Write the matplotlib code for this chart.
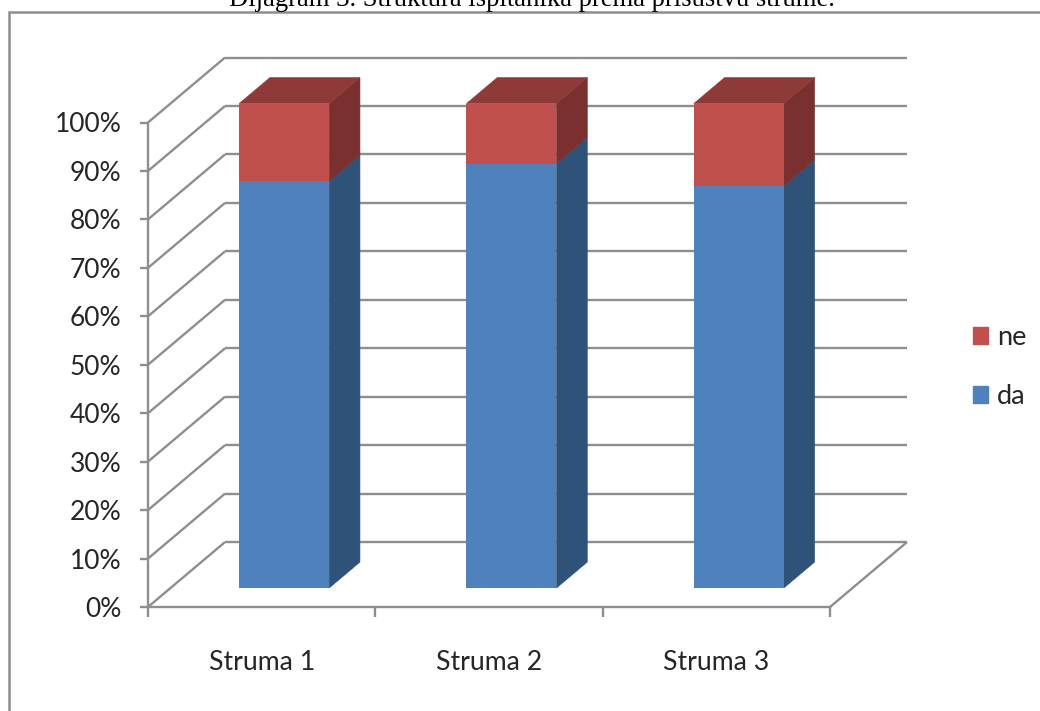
import matplotlib
matplotlib.use('Agg')
import matplotlib.pyplot as plt
from matplotlib.lines import Line2D
from matplotlib.patches import Patch

categories = ['Struma 1', 'Struma 2', 'Struma 3']
da = [84.0, 87.6, 83.0]
ne = [16.0, 12.4, 17.0]
yticks = [0, 10, 20, 30, 40, 50, 60, 70, 80, 90, 100]
ytick_labels = ['0%', '10%', '20%', '30%', '40%', '50%', '60%', '70%', '80%', '90%', '100%']

title = 'Dijagram 3. Struktura ispitanika prema prisustvu strume.'

BLUE, BLUE_SIDE = '#4F81BD', '#2F5279'
RED, RED_SIDE, RED_TOP = '#C0504D', '#7A302E', '#8E3A38'
GRID = '#8E8E8E'
TEXT = '#262626'

# Oblique depth: how far the back wall is shifted, in data units.
DEPTH_X = 77 / 227.33
DEPTH_Y = 65 / 4.85
BAR_WIDTH = 0.396
BAR_FRONT = 0.292
BAR_BACK = 0.692

plt.rcParams['font.family'] = ['Lato', 'DejaVu Sans']

fig = plt.figure(figsize=(10.4, 7.11), dpi=100)
ax = fig.add_axes([148 / 1040, 104 / 711, 682 / 1040, 484.5 / 711])
ax.set_xlim(0, 3)
ax.set_ylim(0, 100)

for name in ['top', 'right']:
    ax.spines[name].set_visible(False)
for name in ['left', 'bottom']:
    ax.spines[name].set_color(GRID)
    ax.spines[name].set_linewidth(1.7)


def depth_line(x0, y0, x1, y1):
    ax.add_line(Line2D([x0, x1], [y0, y1], color=GRID, lw=1.7, clip_on=False,
                       solid_capstyle='butt', zorder=1))


# Back wall gridlines, side wall diagonals and the floor edge.
for y in yticks:
    depth_line(DEPTH_X, y + DEPTH_Y, 3 + DEPTH_X, y + DEPTH_Y)
    depth_line(0, y, DEPTH_X, y + DEPTH_Y)
depth_line(3, 0, 3 + DEPTH_X, DEPTH_Y)


def box(x, bottom, height, front, side, top=None):
    left = x - BAR_WIDTH / 2 + BAR_FRONT * DEPTH_X
    right = left + BAR_WIDTH
    base = bottom + BAR_FRONT * DEPTH_Y
    dx = (BAR_BACK - BAR_FRONT) * DEPTH_X
    dy = (BAR_BACK - BAR_FRONT) * DEPTH_Y
    # thin edge in the same colour closes the seam against the front face
    ax.fill([right, right + dx, right + dx, right],
            [base, base + dy, base + height + dy, base + height],
            facecolor=side, edgecolor=side, lw=0.4, clip_on=False, zorder=2)
    if top is not None:
        ax.fill([left, left + dx, right + dx, right],
                [base + height, base + height + dy, base + height + dy, base + height],
                facecolor=top, edgecolor=top, lw=0.4, clip_on=False, zorder=2)
    ax.bar(left, height, BAR_WIDTH, bottom=base, align='edge', color=front, lw=0,
           clip_on=False, zorder=3)


for i in range(len(categories)):
    box(i + 0.5, 0, da[i], BLUE, BLUE_SIDE)
    box(i + 0.5, da[i], ne[i], RED, RED_SIDE, RED_TOP)

ax.set_yticks(yticks)
ax.set_yticklabels(ytick_labels)
ax.set_xticks([0, 1, 2, 3])
ax.set_xticklabels([])
ax.set_xticks([0.5, 1.5, 2.5], minor=True)
ax.set_xticklabels(categories, minor=True)
ax.tick_params(axis='y', length=6, width=1.7, color=GRID, pad=13, labelsize=19, labelcolor=TEXT)
ax.tick_params(axis='x', which='major', length=7, width=1.7, color=GRID)
ax.tick_params(axis='x', which='minor', length=0, pad=31, labelsize=19.2, labelcolor=TEXT)

handles = [Patch(color=RED, label='ne'), Patch(color=BLUE, label='da')]
fig.legend(handles=handles, loc='center left', bbox_to_anchor=(973 / 1040, 0.484), frameon=False,
           fontsize=19.5, labelcolor=TEXT, handlelength=0.55, handleheight=0.6,
           handletextpad=0.33, labelspacing=1.25, borderpad=0, borderaxespad=0)

# Outer frame, open on the right and at the bottom edge of the page.
fig.add_artist(Line2D([9 / 1040, 9 / 1040, 1], [0, 1 - 12 / 711, 1 - 12 / 711],
                      color=GRID, lw=1.8, solid_joinstyle='miter'))

# The caption sits right on the top edge of the page and its upper part runs off it.
fig.text(531.5 / 1040, 1 - 6.5 / 711, title, ha='center', va='baseline',
         family='Liberation Serif', fontsize=19.2, color='black')

fig.savefig('out.png', dpi=100)
